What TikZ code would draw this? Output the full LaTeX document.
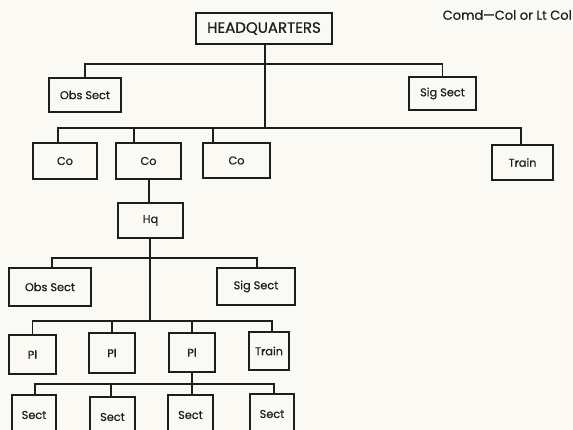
\documentclass[tikz,border=0pt]{standalone}
\usepackage{fontspec}
\setmainfont{Poppins}[FakeBold=0.6]
\definecolor{bg}{RGB}{250,249,243}
\definecolor{ink}{RGB}{30,30,30}
\begin{document}
\begin{tikzpicture}[x=1pt,y=-1pt,
  box/.style={draw=ink,line width=1.5pt,rectangle,inner sep=0pt,font=\fontsize{11.3}{12}\selectfont,text=ink},
  conn/.style={draw=ink,line width=1.2pt}]
\fill[bg] (0,0) rectangle (573,430);
\useasboundingbox (0,0) rectangle (573,430);
\begin{scope}
\clip (0,0) rectangle (573,430);
\node[box,minimum width=136pt,minimum height=31pt,font=\fontsize{15}{16}\selectfont] (HQ) at (264,28.5) {HEADQUARTERS};
\node[anchor=east,text=ink,font=\fontsize{13}{14}\selectfont,inner sep=0pt] (cmd) at (572,15) {Comd—Col or Lt Col};
\node[box,minimum width=72pt,minimum height=34pt] (obsA) at (85,95) {Obs Sect};
\node[box,minimum width=67pt,minimum height=33pt] (sigA) at (442.5,93.5) {Sig Sect};
\node[box,minimum width=64pt,minimum height=36pt] (coA) at (65,161) {Co};
\node[box,minimum width=65pt,minimum height=36pt] (coB) at (148.5,161) {Co};
\node[box,minimum width=67pt,minimum height=35pt] (coC) at (236.5,160.5) {Co};
\node[box,minimum width=61pt,minimum height=35pt] (trainA) at (522.5,162.5) {Train};
\node[box,minimum width=65pt,minimum height=35pt] (hq) at (150.5,220.5) {Hq};
\node[box,minimum width=82pt,minimum height=38pt] (obsB) at (50,287) {Obs Sect};
\node[box,minimum width=78pt,minimum height=37pt] (sigB) at (256,286.5) {Sig Sect};
\node[box,minimum width=47pt,minimum height=39pt] (plA) at (32.5,354.5) {Pl};
\node[box,minimum width=46pt,minimum height=40pt] (plB) at (112,353) {Pl};
\node[box,minimum width=46pt,minimum height=39pt] (plC) at (192,352.5) {Pl};
\node[box,minimum width=40pt,minimum height=38pt] (trainB) at (269,351) {Train};
\node[box,minimum width=44pt,minimum height=40pt] (sectA) at (34,415) {Sect};
\node[box,minimum width=45pt,minimum height=40pt] (sectB) at (112.5,417) {Sect};
\node[box,minimum width=45pt,minimum height=40pt] (sectC) at (190.5,415) {Sect};
\node[box,minimum width=44pt,minimum height=40pt] (sectD) at (272,414) {Sect};
% bus levels
\coordinate (busA) at (265,64);
\coordinate (busB) at (265,128);
\coordinate (busC) at (150,258);
\coordinate (busD) at (150,321);
\coordinate (busE) at (192,384);
\coordinate (coHq) at (149,180);
% HQ
\draw[conn] ([xshift=1pt]HQ.south) -- (busB);
\draw[conn] (obsA.north) |- (busA) -| (sigA.north);
\draw[conn] ([xshift=-7pt]coA.north) |- (busB) -| ([xshift=-1.5pt]trainA.north);
\draw[conn] ([xshift=-14.5pt]coB.north) -- ([xshift=-14.5pt]coB.north |- busB);
\draw[conn] ([xshift=-23.5pt]coC.north) -- ([xshift=-23.5pt]coC.north |- busB);
\draw[conn] (coB.south -| coHq) -- (coHq |- hq.north);
% Hq
\draw[conn] (hq.south -| busD) -- (busD);
\draw[conn] ([xshift=2pt]obsB.north) |- (busC) -| ([xshift=1pt]sigB.north);
\draw[conn] (plA.north) |- (busD) -| ([xshift=3pt]trainB.north);
\draw[conn] (plB.north) -- (plB.north |- busD);
\draw[conn] (plC.north) -- (plC.north |- busD);
% Pl
\draw[conn] (plC.south) -- (busE);
\draw[conn] ([xshift=1pt]sectA.north) |- (busE) -| ([xshift=2pt]sectD.north);
\draw[conn] ([xshift=-1.5pt]sectB.north) -- ([xshift=-1.5pt]sectB.north |- busE);
\draw[conn] ([xshift=1.5pt]sectC.north) -- ([xshift=1.5pt]sectC.north |- busE);
\end{scope}
\end{tikzpicture}
\end{document}
